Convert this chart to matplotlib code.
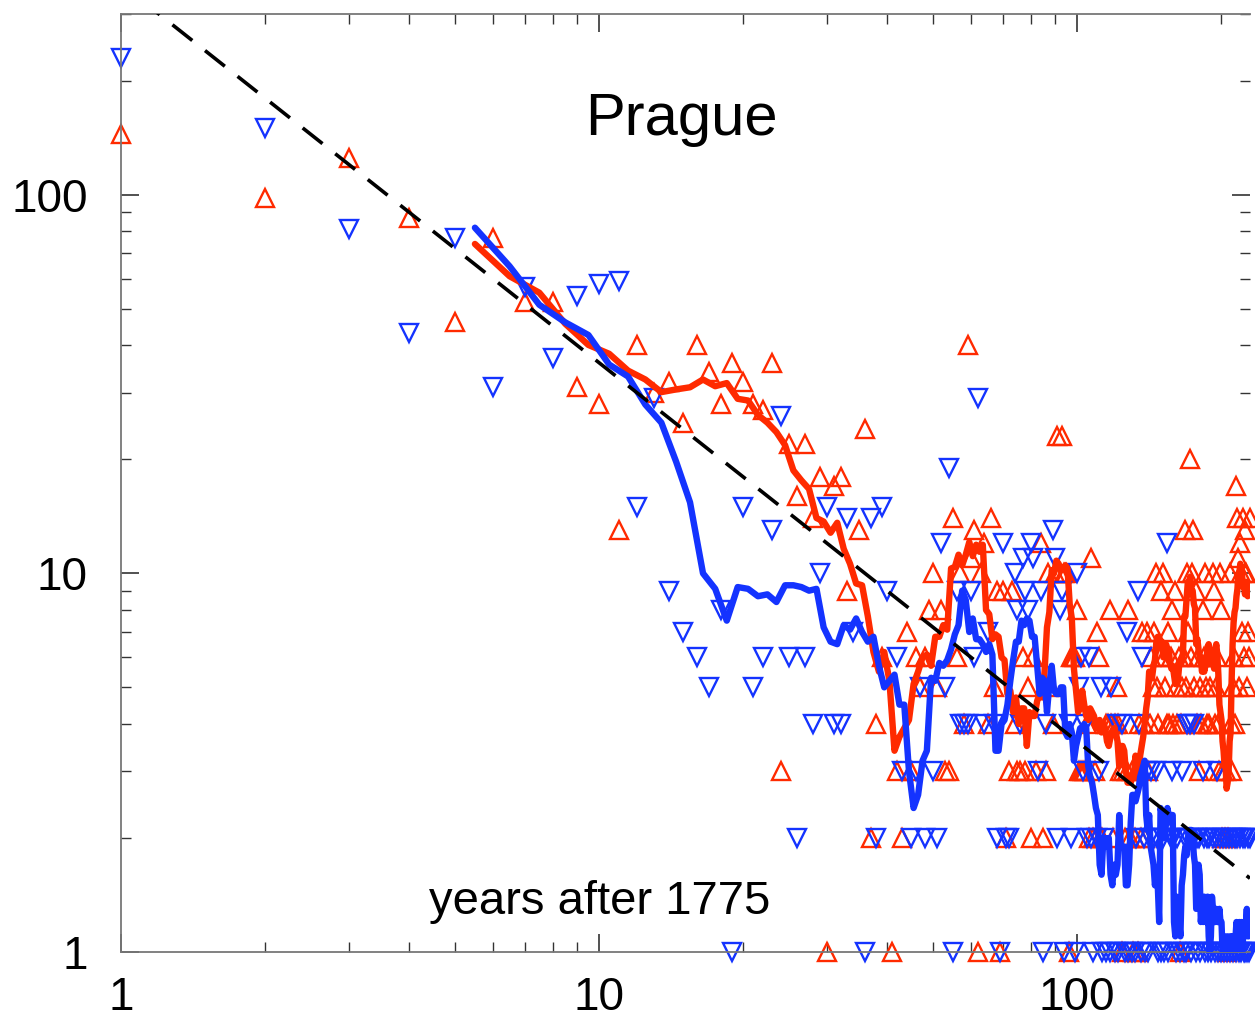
import numpy as np
import matplotlib
matplotlib.use("Agg")
import matplotlib.pyplot as plt

plt.rcParams['font.family'] = ['Liberation Sans', 'DejaVu Sans']

# ---------------- data (counts per year after 1775) ----------------
years = np.arange(1, 234)

red_counts = [
    145, 98, 125, 87, 46, 77, 52, 52, 31, 28,      # 1-10
    13, 40, 30, 32, 25, 40, 34, 28, 36, 32,        # 11-20
    28, 27, 36, 3, 22, 16, 22, 14, 18, 1,          # 21-30
    17, 18, 9, 0, 13, 24, 2, 4, 6, 0,              # 31-40
    1, 3, 2, 7, 3, 6, 5, 6, 8, 10,                 # 41-50
    5, 8, 3, 3, 14, 6, 10, 4, 40, 11,              # 51-60
    13, 1, 10, 12, 4, 14, 5, 9, 1, 9,              # 61-70
    2, 3, 9, 4, 3, 3, 6, 3, 5, 2,                  # 71-80
    6, 3, 0, 12, 2, 3, 10, 5, 4, 10,               # 81-90
    23, 10, 23, 10, 10, 1, 6, 6, 6, 8,             # 91-100
    3, 3, 3, 3, 4, 2, 11, 2, 3, 7,                 # 101-110
    6, 2, 2, 0, 4, 4, 8, 4, 2, 4,                  # 111-120
    5, 4, 3, 1, 3, 2, 3, 8, 2, 3,                  # 121-130
    1, 2, 3, 1, 4, 2, 7, 4, 2, 7,                  # 131-140
    3, 4, 6, 5, 7, 10, 5, 4, 6, 9,                 # 141-150
    10, 6, 5, 4, 7, 4, 6, 8, 4, 9,                 # 151-160
    5, 4, 6, 1, 4, 5, 6, 13, 5, 10,                # 161-170
    7, 20, 6, 10, 13, 5, 9, 4, 6, 3,               # 171-180
    5, 4, 8, 6, 10, 5, 4, 6, 4, 5,                 # 181-190
    6, 10, 9, 4, 5, 6, 4, 3, 10, 8,                # 191-200
    2, 3, 0, 2, 3, 1, 2, 0, 10, 4,                 # 201-210
    3, 5, 6, 4, 17, 14, 11, 5, 12, 10,             # 211-220
    7, 14, 6, 10, 13, 10, 5, 7, 6, 14,             # 221-230
    10, 6, 12,                                     # 231-233
]

blue_counts = [
    230, 150, 81, 43, 77, 31, 57, 37, 54, 58,      # 1-10
    59, 15, 29, 9, 7, 6, 5, 8, 1, 15,              # 11-20
    5, 6, 13, 26, 6, 2, 6, 4, 10, 15,              # 21-30
    4, 4, 14, 7, 0, 1, 14, 2, 15, 9,               # 31-40
    0, 6, 3, 0, 2, 3, 5, 2, 0, 3,                  # 41-50
    2, 12, 5, 19, 1, 9, 4, 4, 4, 9,                # 51-60
    6, 29, 0, 4, 7, 0, 4, 2, 1, 12,                # 61-70
    2, 2, 0, 10, 8, 4, 11, 9, 8, 12,               # 71-80
    11, 0, 3, 9, 1, 4, 0, 0, 13, 11,               # 81-90
    2, 8, 9, 1, 0, 4, 2, 0, 1, 10,                 # 91-100
    5, 6, 3, 4, 2, 6, 2, 1, 0, 2,                  # 101-110
    3, 5, 1, 2, 1, 0, 1, 5, 0, 1,                  # 111-120
    4, 1, 0, 4, 0, 1, 7, 1, 0, 1,                  # 121-130
    0, 1, 2, 9, 4, 1, 6, 2, 1, 3,                  # 131-140
    1, 2, 3, 0, 2, 3, 2, 1, 0, 1,                  # 141-150
    2, 1, 0, 12, 1, 0, 2, 3, 2, 0,                 # 151-160
    1, 2, 0, 1, 0, 3, 1, 2, 1, 4,                  # 161-170
    2, 4, 1, 0, 2, 4, 1, 2, 0, 2,                  # 171-180
    1, 0, 3, 2, 1, 0, 2, 1, 2, 0,                  # 181-190
    1, 2, 0, 1, 2, 3, 1, 0, 2, 1,                  # 191-200
    0, 2, 1, 0, 2, 1, 0, 2, 1, 0,                  # 201-210
    2, 1, 0, 2, 1, 2, 0, 1, 2, 1,                  # 211-220
    0, 2, 1, 1, 2, 0, 1, 2, 1, 2,                  # 221-230
    1, 0, 1,                                       # 231-233
]

window_years = 10                 # running-mean window
fit_x = [1, 230]                  # dashed power-law guide (slope -1)
fit_y = [360, 1.565]

title_text = "Prague"
xlabel_text = "years after 1775"

# ---------------- figure ----------------
RED = "#ff2a00"
BLUE = "#1433ff"
XMAX = 230

fig = plt.figure(figsize=(12.55, 10.19), dpi=100)
ax = fig.add_axes([121/1255, 1 - 952/1019, (1250-121)/1255, (952-14)/1019])
ax.set_xscale('log')
ax.set_yscale('log')

red = np.array(red_counts, dtype=float)
blue = np.array(blue_counts, dtype=float)

# markers (zero counts are not shown); not clipped so the y=1 row is complete
mr = (red > 0) & (years <= XMAX)
mb = (blue > 0) & (years <= XMAX)
ax.plot(years[mr], red[mr], linestyle='none', marker='^', markersize=12.5,
        markerfacecolor='none', markeredgecolor=RED, markeredgewidth=1.7,
        zorder=2, clip_on=False)
ax.plot(years[mb], blue[mb], linestyle='none', marker='v', markersize=12.5,
        markerfacecolor='none', markeredgecolor=BLUE, markeredgewidth=1.7,
        zorder=2, clip_on=False)

# running means
kern = np.ones(window_years) / window_years
rx = years[:len(years) - window_years + 1] + (window_years - 1) / 2
red_mean = np.convolve(red, kern, mode='valid')
blue_mean = np.convolve(blue, kern, mode='valid')
ax.plot(rx, red_mean, color=RED, lw=4.6, solid_joinstyle='round',
        solid_capstyle='round', zorder=3)
ax.plot(rx, blue_mean, color=BLUE, lw=4.6, solid_joinstyle='round',
        solid_capstyle='round', zorder=4)

# dashed guide
ax.plot(fit_x, fit_y, color='black', lw=2.6, linestyle=(0, (7, 4.5)), zorder=5)

ax.set_xlim(1, XMAX)
ax.set_ylim(1, 300)

# ticks
ax.set_xticks([1, 10, 100])
ax.set_xticklabels(['1', '10', '100'])
ax.set_yticks([1, 10, 100])
ax.set_yticklabels(['1', '10', '100'])
ax.tick_params(which='both', direction='in', top=True, right=True,
               colors='#333333', labelcolor='black')
ax.tick_params(axis='x', which='major', length=13, width=1.2, labelsize=33, pad=17)
ax.tick_params(axis='y', which='major', length=13, width=1.2, labelsize=33, pad=24)
ax.tick_params(which='minor', length=7, width=1.0)
ax.xaxis.set_minor_formatter(matplotlib.ticker.NullFormatter())
ax.yaxis.set_minor_formatter(matplotlib.ticker.NullFormatter())

for s in ['left', 'bottom', 'top']:
    ax.spines[s].set_color('#777777')
    ax.spines[s].set_linewidth(1.3)
ax.spines['right'].set_visible(False)

ax.text(0.496, 0.871, title_text, transform=ax.transAxes, ha='center',
        va='baseline', fontsize=43, color='black')
ax.text(0.424, 0.040, xlabel_text, transform=ax.transAxes, ha='center',
        va='baseline', fontsize=34, color='black')

fig.savefig('out.png', dpi=100)
